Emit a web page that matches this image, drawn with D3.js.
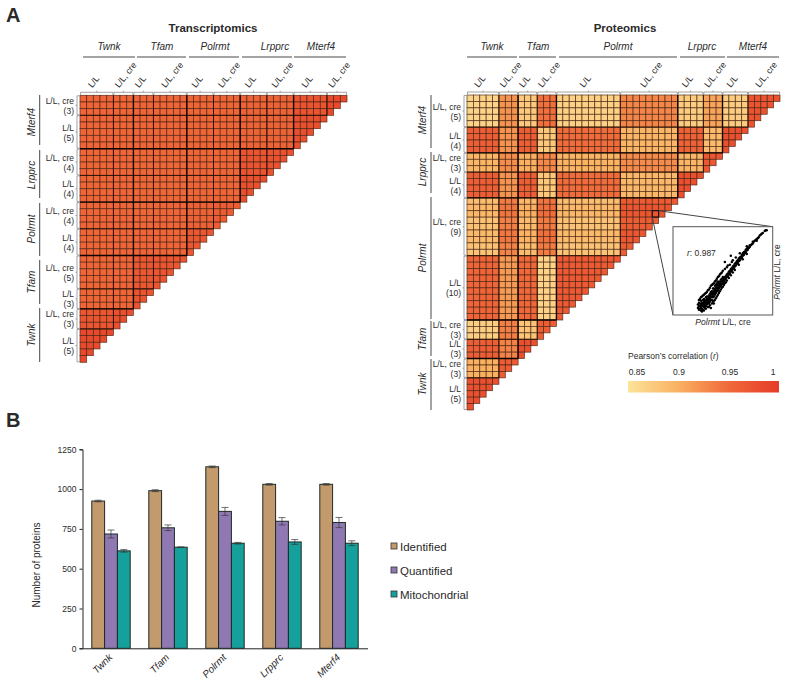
<!DOCTYPE html>
<html><head><meta charset="utf-8">
<script src="https://cdnjs.cloudflare.com/ajax/libs/d3/7.8.5/d3.min.js"></script>
<style>html,body{margin:0;padding:0;background:#fff}svg{display:block}text{font-family:"Liberation Sans",Arial,sans-serif;fill:#2a2a2a}</style>
</head><body><svg id="c" width="787" height="685"></svg>
<script>
// ---------- data ----------
const geneNames = ["Twnk","Tfam","Polrmt","Lrpprc","Mterf4"];
const correlationTicks = [0.85,0.9,0.95,1];
// sample counts per group, columns left to right: gene L/L then gene L/L, cre
const transcriptCounts = [5,3,3,5,4,4,4,4,5,3];
const proteomeCounts   = [5,3,3,3,10,9,4,3,4,5];
// block correlations: rows from the top (Mterf4 cre, Mterf4 L/L, ... Twnk L/L), columns from the left
const transcriptR = [
 [.956,.955,.954,.954,.955,.955,.958,.958,.975,.985],
 [.956,.955,.954,.954,.955,.955,.958,.958,.978],
 [.955,.954,.953,.953,.955,.955,.974,.976],
 [.955,.954,.953,.953,.955,.955,.978],
 [.954,.954,.953,.954,.960,.964],
 [.955,.954,.956,.956,.970],
 [.955,.954,.970,.972],
 [.955,.955,.975],
 [.972,.978],
 [.985]
];
const proteomeR = [
 [.865,.920,.875,.945,.868,.930,.872,.908,.872,.975],
 [.962,.920,.962,.876,.948,.895,.958,.890,.978],
 [.895,.925,.900,.928,.897,.926,.895,.970],
 [.962,.920,.962,.876,.948,.892,.978],
 [.885,.935,.892,.940,.885,.965],
 [.956,.915,.952,.866,.968],
 [.870,.935,.880,.962],
 [.962,.932,.978],
 [.900,.965],
 [.978]
];
// per-row shifts of the Polrmt L/L, cre rows, read from their visible banding
const polrmtCreRowShift = [.002,.007,.007,-.002,-.002,.006,.006,-.003,-.003];
const identified   = [925,990,1140,1030,1030];
const quantified   = [718,757,860,798,790];
const mitochondrial= [612,635,660,668,660];
const identifiedErr   = [5,6,5,5,5];
const quantifiedErr   = [25,18,25,23,32];
const mitochondrialErr= [8,2,5,15,15];
const barSeries = ["Identified","Quantified","Mitochondrial"];
const proteinTicks = [0,250,500,750,1000,1250];
const scatterPoints = [[25,8],[25,12],[26,6],[26,10],[26,14],[27,7],[27,10],[27,13],[28,5],[28,9],[28,12],[28,16],[29,7],[29,11],[29,14],[30,6],[30,10],[30,13],[30,17],[31,9],[31,12],[31,15],[31,18],[32,8],[32,11],[32,14],[32,17],[33,10],[33,13],[33,16],[33,20],[34,12],[34,15],[34,18],[34,21],[35,9],[35,14],[35,17],[35,20],[36,13],[36,16],[36,19],[36,22],[37,15],[37,18],[37,21],[37,24],[38,17],[38,20],[38,23],[38,26],[39,17],[39,21],[39,24],[39,27],[40,20],[40,23],[40,26],[40,30],[41,13],[41,21],[41,24],[41,27],[41,30],[42,23],[42,26],[42,29],[42,33],[43,25],[43,28],[43,31],[43,34],[44,27],[44,30],[44,33],[44,36],[45,28],[45,31],[45,34],[45,38],[46,30],[46,33],[46,36],[47,32],[47,35],[47,38],[48,33],[48,36],[48,40],[49,35],[49,38],[49,41],[50,36],[50,39],[50,43],[51,38],[51,41],[52,40],[52,43],[53,41],[53,44],[54,43],[54,46],[55,44],[55,47],[56,46],[56,49],[57,47],[57,50],[58,49],[58,52],[58,67],[59,50],[59,53],[60,52],[60,55],[61,53],[61,56],[62,55],[62,58],[63,56],[63,59],[64,58],[64,61],[65,59],[65,62],[66,61],[66,64],[67,62],[67,65],[68,64],[68,66],[69,65],[69,68],[70,67],[70,70],[71,68],[71,71],[72,70],[72,72],[73,71],[73,74],[74,73],[74,75],[75,74],[75,77],[76,76],[77,77],[77,79],[78,79],[79,80],[80,81],[80,83],[81,83],[82,84],[83,85],[84,86],[85,87],[86,88],[92,95],[93,96],[94,96],
[26,17],[27,18],[28,20],[29,21],[30,22],[31,23],[32,24],[33,25],[34,26],[35,28],[36,29],[37,31],[38,33],[39,34],[40,35],[41,36],[42,38],[43,39],[44,41],[45,43],[46,44],[47,46],[48,47],[49,48],[50,50],[52,52],[54,54],[55,56],[57,57],[59,60],[60,62],[63,65],[29,4],[31,5],[33,7],[36,9],[37,11],[39,13],[40,15],[41,16],[42,17],[43,19],[44,21],[45,23],[46,25],[47,27],[48,29],[49,31],[50,32],[51,34],[52,36],[53,37],[54,39],[56,42],[58,45],[60,48],[62,51],[66,57],[70,63],[74,69],[67,70],[74,78],[84,84],[87,90],[88,91],[89,92],[90,93],[38,8],[52,60]];

// ---------- shared ----------
const svg = d3.select("#c");
const heat = d3.scaleLinear().domain(correlationTicks).range(["#fde39a","#f9b161","#f0693a","#e63c28"]).clamp(true);
const label = (g,x,y,t,o={})=>g.append("text").attr("x",x).attr("y",y).text(t)
  .attr("font-size",o.size||8.5).attr("font-style",o.italic?"italic":null).attr("font-weight",o.bold?"bold":null)
  .attr("text-anchor",o.anchor||"start");

function heatmap(cfg){
  const g = svg.append("g");
  const counts = cfg.counts, n = d3.sum(counts);
  const x = d3.scaleLinear().domain([0,n]).range(cfg.x);
  const y = d3.scaleLinear().domain([0,n]).range(cfg.y);
  const colEdges = Array.from(d3.cumsum([0,...counts]));
  const rowCounts = counts.slice().reverse();
  const rowEdges = Array.from(d3.cumsum([0,...rowCounts]));
  const cells = [];
  rowCounts.forEach((rc,ri)=>{
    for(let r=rowEdges[ri];r<rowEdges[ri+1];r++){
      const shift = cfg.rowShift && cfg.rowShift.group===ri ? cfg.rowShift.values[r-rowEdges[ri]] : 0;
      counts.forEach((cc,ci)=>{
        for(let c=colEdges[ci];c<colEdges[ci+1];c++){
          if(c<n-r) cells.push({r,c,v:cfg.values[ri][ci]+shift});
        }
      });
    }
  });
  g.selectAll("rect.cell").data(cells).join("rect").attr("class","cell")
    .attr("x",d=>x(d.c)).attr("y",d=>y(d.r)).attr("width",x(1)-x(0)).attr("height",y(1)-y(0))
    .attr("fill",d=>heat(d.v)).attr("stroke","#4a2410").attr("stroke-opacity",.85).attr("stroke-width",.75);
  // group dividers: gene boundaries strongest, L/L vs cre boundaries lighter
  const divStyle = (s,i)=>s.attr("stroke",i%2?"#2a1206":"#0d0402").attr("stroke-width",i%2?.95:1.4);
  colEdges.slice(1,-1).forEach((c,i)=>divStyle(g.append("line").attr("x1",x(c)).attr("x2",x(c)).attr("y1",y(0)).attr("y2",y(n-c)),i+1));
  rowEdges.slice(1,-1).forEach((r,i)=>divStyle(g.append("line").attr("x1",x(0)).attr("x2",x(n-r)).attr("y1",y(r)).attr("y2",y(r)),i+1));
  // top brackets and sample labels
  const bk = "#8a8a8a";
  counts.forEach((cc,i)=>{
    const a=x(colEdges[i])+.5,b=x(colEdges[i+1])-.5,m=(a+b)/2;
    g.append("path").attr("fill","none").attr("stroke",bk).attr("stroke-width",.8)
      .attr("d",`M${a},${y(0)-.5}V${y(0)-3}H${b}V${y(0)-.5}M${m},${y(0)-3}V${y(0)-4.5}`);
    const txt=i%2?"L/L, cre":"L/L";
    label(g,m-4.5,y(0)-7,txt,{size:8.8}).attr("transform",`rotate(-52 ${m-4.5} ${y(0)-7})`);
  });
  // left brackets and row labels
  rowCounts.forEach((rc,i)=>{
    const a=y(rowEdges[i])+.5,b=y(rowEdges[i+1])-.5,m=(a+b)/2;
    g.append("path").attr("fill","none").attr("stroke",bk).attr("stroke-width",.8)
      .attr("d",`M${x(0)-.5},${a}H${x(0)-3}V${b}H${x(0)-.5}M${x(0)-3},${m}H${x(0)-4.5}`);
    const rx=x(0)-6;
    label(g,rx,m-1.5,i%2?"L/L":"L/L, cre",{anchor:"end"});
    label(g,rx,m+8.5,`(${rc})`,{anchor:"end"});
  });
  // gene rules and labels
  label(g,cfg.titleX,32,cfg.title,{size:11.5,bold:true,anchor:"middle"});
  geneNames.forEach((name,i)=>{
    const [a,b]=cfg.topRules[i];
    g.append("line").attr("x1",a).attr("x2",b).attr("y1",57).attr("y2",57).attr("stroke","#333").attr("stroke-width",.9);
    label(g,cfg.topLabels[i],50,name,{size:10,italic:true,anchor:"middle"});
    const [s,e]=cfg.sideRules[i];
    g.append("line").attr("x1",cfg.sideX).attr("x2",cfg.sideX).attr("y1",s).attr("y2",e).attr("stroke","#333").attr("stroke-width",.9);
    const lx=cfg.sideX-5, ly=cfg.sideLabels[i];
    label(g,lx,ly,name,{size:10,italic:true,anchor:"middle"}).attr("transform",`rotate(-90 ${lx} ${ly})`);
  });
  return {x,y,g};
}

heatmap({title:"Transcriptomics",titleX:213,counts:transcriptCounts,values:transcriptR,x:[80,347],y:[95.3,362.3],
  topRules:[[83,135],[137,186],[189,239],[242,292],[294,346]],topLabels:[109,162,215,275,321],
  sideX:39.7,sideRules:[[308,362],[260,304],[203,256],[150,198],[95,145]],sideLabels:[335,282,229,175,122]});
const pm = heatmap({title:"Proteomics",titleX:625,counts:proteomeCounts,values:proteomeR,x:[467,780],y:[95,410],
  rowShift:{group:4,values:polrmtCreRowShift},
  topRules:[[467,517],[519,556],[559,677],[680,725],[727,779]],topLabels:[492,538,618,702,753],
  sideX:431,sideRules:[[359,410],[321,356],[197,319],[152,193],[95,148]],sideLabels:[384,339,258,172,120]});

label(svg,6,22,"A",{size:20,bold:true});
label(svg,6,427,"B",{size:20,bold:true});

// ---------- inset ----------
const zoomRow=18, zoomCol=29;
const box={l:673,r:772.7,t:226.7,b:315};
const ins=svg.append("g");
const sq={l:pm.x(zoomCol),r:pm.x(zoomCol+1),t:pm.y(zoomRow),b:pm.y(zoomRow+1)};
ins.append("rect").attr("x",sq.l).attr("y",sq.t).attr("width",sq.r-sq.l).attr("height",sq.b-sq.t).attr("fill","none").attr("stroke","#111").attr("stroke-width",1.1);
ins.append("line").attr("x1",sq.r).attr("y1",sq.t).attr("x2",box.r).attr("y2",box.t).attr("stroke","#444");
ins.append("line").attr("x1",sq.l).attr("y1",sq.b).attr("x2",box.l).attr("y2",box.b).attr("stroke","#444");
ins.append("rect").attr("x",box.l).attr("y",box.t).attr("width",box.r-box.l).attr("height",box.b-box.t).attr("fill","#fff").attr("stroke","#555").attr("stroke-width",1);
const sx=d3.scaleLinear().domain([0,100]).range([box.l,box.r]);
const sy=d3.scaleLinear().domain([0,100]).range([box.b,box.t]);
ins.selectAll("circle").data(scatterPoints).join("circle").attr("cx",d=>sx(d[0])).attr("cy",d=>sy(d[1])).attr("r",1.25).attr("fill","#000");
const rT=label(ins,687,255.5,"",{size:8.5});
rT.append("tspan").attr("font-style","italic").text("r");rT.append("tspan").text(": 0.987");
const xT=label(ins,723,325,"",{size:8.5,anchor:"middle"});
xT.append("tspan").attr("font-style","italic").text("Polrmt");xT.append("tspan").text(" L/L, cre");
const yT=label(ins,780,272,"",{size:8.5,anchor:"middle"}).attr("transform","rotate(-90 780 272)");
yT.append("tspan").attr("font-style","italic").text("Polrmt");yT.append("tspan").text(" L/L, cre");

// ---------- colour legend ----------
const leg=svg.append("g");
const rr=label(leg,628,359,"Pearson\u2019s correlation (",{size:8.5});
rr.append("tspan").attr("font-style","italic").text("r");rr.append("tspan").text(")");
const grad=svg.append("defs").append("linearGradient").attr("id","hg");
correlationTicks.forEach((t,i)=>grad.append("stop").attr("offset",i/(correlationTicks.length-1)).attr("stop-color",heat(t)));
leg.append("rect").attr("x",628).attr("y",381).attr("width",151).attr("height",11.5).attr("fill","url(#hg)");
const tickX=d3.scaleLinear().domain(correlationTicks).range([637,679,730,773]);
correlationTicks.forEach(t=>label(leg,tickX(t),375,String(t),{size:8.5,anchor:"middle"}));

// ---------- bars ----------
const b=svg.append("g");
const bx=d3.scaleBand().domain(geneNames).range([82.5,367.5]);
const by=d3.scaleLinear().domain([0,1250]).range([648.3,449.3]);
const barW=12.8;
const colours=["#c39a6b","#9079b3","#16a09b"];
const vals=[identified,quantified,mitochondrial], errs=[identifiedErr,quantifiedErr,mitochondrialErr];
const yAxis=b.append("g").attr("transform","translate(82.5,0)").call(d3.axisLeft(by).tickValues(proteinTicks).tickSize(3).tickFormat(d3.format("d")));
yAxis.selectAll("text").attr("font-size",8.5).attr("font-family",null);
const xAxis=b.append("g").attr("transform","translate(0,648.3)").call(d3.axisBottom(bx).tickSize(0).tickFormat(""));
[yAxis,xAxis].forEach(a=>a.selectAll("path,line").attr("stroke","#222").attr("stroke-width",1));
vals.forEach((vs,si)=>{
  const off=d=>bx(d)+bx.bandwidth()/2+(si-1.5)*barW;
  const gs=b.append("g");
  gs.selectAll("rect").data(geneNames).join("rect").attr("x",off).attr("y",(d,i)=>by(vs[i])).attr("width",barW).attr("height",(d,i)=>by(0)-by(vs[i]))
    .attr("fill",colours[si]).attr("stroke","#1e2a28").attr("stroke-width",1);
  gs.selectAll("path").data(geneNames).join("path").attr("fill","none").attr("stroke","#333").attr("stroke-width",.7)
    .attr("d",(d,i)=>{const c=off(d)+barW/2,t=by(vs[i]+errs[si][i]),u=by(vs[i]-errs[si][i]);return `M${c-3.5},${t}H${c+3.5}M${c},${t}V${u}M${c-3.5},${u}H${c+3.5}`;});
});
geneNames.forEach(d=>{
  const tx=bx(d)+bx.bandwidth()/2+2,ty=658;
  label(b,tx,ty,d,{size:10,italic:true,anchor:"end"}).attr("transform",`rotate(-45 ${tx} ${ty})`);
});
label(b,40,565,"Number of proteins",{size:10,anchor:"middle"}).attr("transform","rotate(-90 40 565)");
const barLegendY=d3.scalePoint().domain(barSeries).range([546,594]);
barSeries.forEach((s,i)=>{
  b.append("rect").attr("x",391).attr("y",barLegendY(s)-3).attr("width",6).attr("height",6).attr("fill",colours[i]).attr("stroke","#333").attr("stroke-width",.8);
  label(b,400,barLegendY(s)+4.5,s,{size:11.5});
});
</script></body></html>
